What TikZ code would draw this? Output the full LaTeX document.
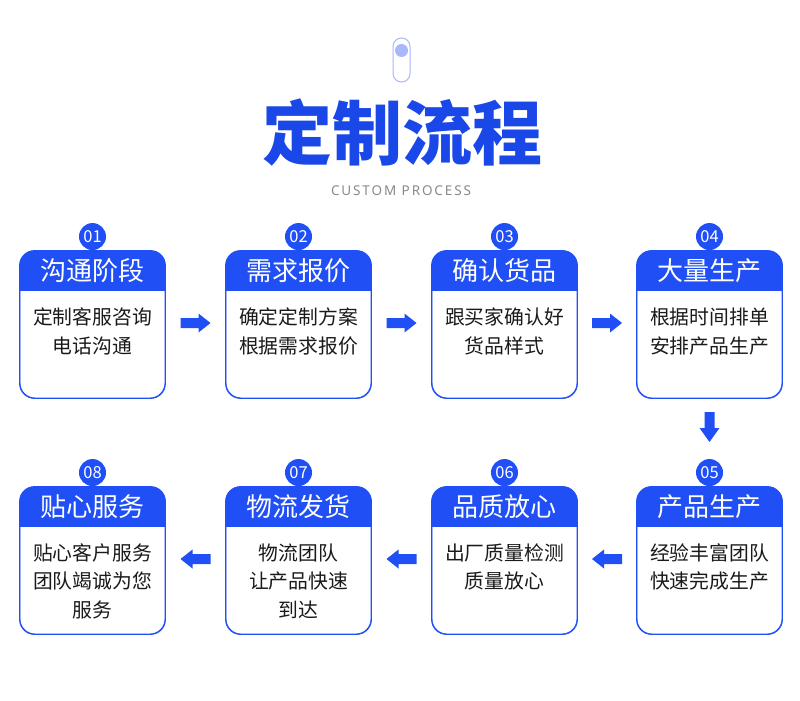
\documentclass[tikz,border=0pt]{standalone}
\usepackage{fontspec}
\setmainfont{Noto Sans CJK SC}
\newfontfamily\latinfont[LetterSpace=14]{Noto Sans}
\usetikzlibrary{calc}
\definecolor{mainblue}{HTML}{1F4FF5}
\definecolor{titleblue}{HTML}{1A47E8}
\definecolor{iconblue}{HTML}{A9B8FB}
\definecolor{subgray}{HTML}{8A8A8A}
\definecolor{bodytext}{HTML}{1A1A1A}
\tikzset{
  box/.style={draw=mainblue, line width=0.9pt, rounded corners=15pt,
    minimum width=145pt, minimum height=147pt, inner sep=0pt},
  numcirc/.style={circle, fill=mainblue, minimum size=27pt, inner sep=0pt,
    text=white, font=\fontsize{16.5}{16.5}\selectfont},
  headtext/.style={text=white, font=\fontsize{26}{26}\selectfont},
  bodytxt/.style={text=bodytext, align=center, font=\fontsize{19.8}{28.5}\selectfont},
  arrowfill/.style={fill=mainblue, draw=none}
}
% name, cx, top, num, title, body, body-center offset
\newcommand\procstep[7]{%
  \node[box] (#1) at (#2,#3+73.5) {};
  \begin{scope}
    \clip[rounded corners=15pt] (#1.south west) rectangle (#1.north east);
    \fill[mainblue] (#1.north west) rectangle ([yshift=-40pt]#1.north east);
  \end{scope}
  \draw[draw=mainblue, line width=0.9pt, rounded corners=15pt] (#1.south west) rectangle (#1.north east);
  \node[numcirc] (#1n) at ([yshift=14pt]#1.north) {#4};
  \node[headtext] (#1h) at ([yshift=-20pt]#1.north) {#5};
  \node[bodytxt] (#1b) at (#2,#3+#7) {#6};
}
\newcommand\rarrow[1]{\fill[arrowfill,shift={(#1)}] (-15pt,-5pt) -- (3pt,-5pt) -- (3pt,-9.5pt) -- (15pt,0pt) -- (3pt,9.5pt) -- (3pt,5pt) -- (-15pt,5pt) -- cycle;}
\newcommand\larrow[1]{\fill[arrowfill,shift={(#1)}] (15pt,-5pt) -- (-3pt,-5pt) -- (-3pt,-9.5pt) -- (-15pt,0pt) -- (-3pt,9.5pt) -- (-3pt,5pt) -- (15pt,5pt) -- cycle;}
\newcommand\darrow[1]{\fill[arrowfill,shift={(#1)}] (-5pt,15pt) -- (-5pt,-1pt) -- (-10pt,-1pt) -- (0pt,-15pt) -- (10pt,-1pt) -- (5pt,-1pt) -- (5pt,15pt) -- cycle;}
\begin{document}
\begin{tikzpicture}[x=1pt,y=-1pt]
\fill[white] (0,0) rectangle (800,701);
\useasboundingbox (0,0) rectangle (800,701);
% icon
\node[draw=iconblue, line width=1pt, rounded corners=8.5pt, minimum width=17pt, minimum height=44pt, inner sep=0pt] (icon) at (401.5,60) {};
\node[circle, fill=iconblue, minimum size=13pt, inner sep=0pt] (icondot) at (401.5,50.5) {};
% title
\node[text=titleblue, font=\fontsize{70}{70}\selectfont\bfseries] (title) at (402,132) {定制流程};
\node[text=subgray, font=\latinfont\fontsize{13.5}{13.5}\selectfont] (subtitle) at (401,191) {CUSTOM PROCESS};
% steps
\procstep{s1}{92.5}{251}{01}{沟通阶段}{定制客服咨询\\电话沟通}{80.5}
\procstep{s2}{298.5}{251}{02}{需求报价}{确定定制方案\\根据需求报价}{80.5}
\procstep{s3}{504.5}{251}{03}{确认货品}{跟买家确认好\\货品样式}{80.5}
\procstep{s4}{709.5}{251}{04}{大量生产}{根据时间排单\\安排产品生产}{80.5}
\procstep{s5}{709.5}{487}{05}{产品生产}{经验丰富团队\\快速完成生产}{80}
\procstep{s6}{504.5}{487}{06}{品质放心}{出厂质量检测\\质量放心}{80}
\procstep{s7}{298.5}{487}{07}{物流发货}{物流团队\\让产品快速\\到达}{94}
\procstep{s8}{92.5}{487}{08}{贴心服务}{贴心客户服务\\团队竭诚为您\\服务}{94}
% arrows
\coordinate (a12) at ($(s1.east)!0.5!(s2.west)+(0,-1.5)$);
\coordinate (a23) at ($(s2.east)!0.5!(s3.west)+(0,-1.5)$);
\coordinate (a34) at ($(s3.east)!0.5!(s4.west)+(0,-1.5)$);
\coordinate (a45) at ($(s4.south)!0.5!(s5.north)+(0,-15.5)$);
\coordinate (a56) at ($(s5.west)!0.5!(s6.east)+(0,-1.5)$);
\coordinate (a67) at ($(s6.west)!0.5!(s7.east)+(0,-1.5)$);
\coordinate (a78) at ($(s7.west)!0.5!(s8.east)+(0,-1.5)$);
\rarrow{a12}\rarrow{a23}\rarrow{a34}
\darrow{a45}
\larrow{a56}\larrow{a67}\larrow{a78}
\end{tikzpicture}
\end{document}
